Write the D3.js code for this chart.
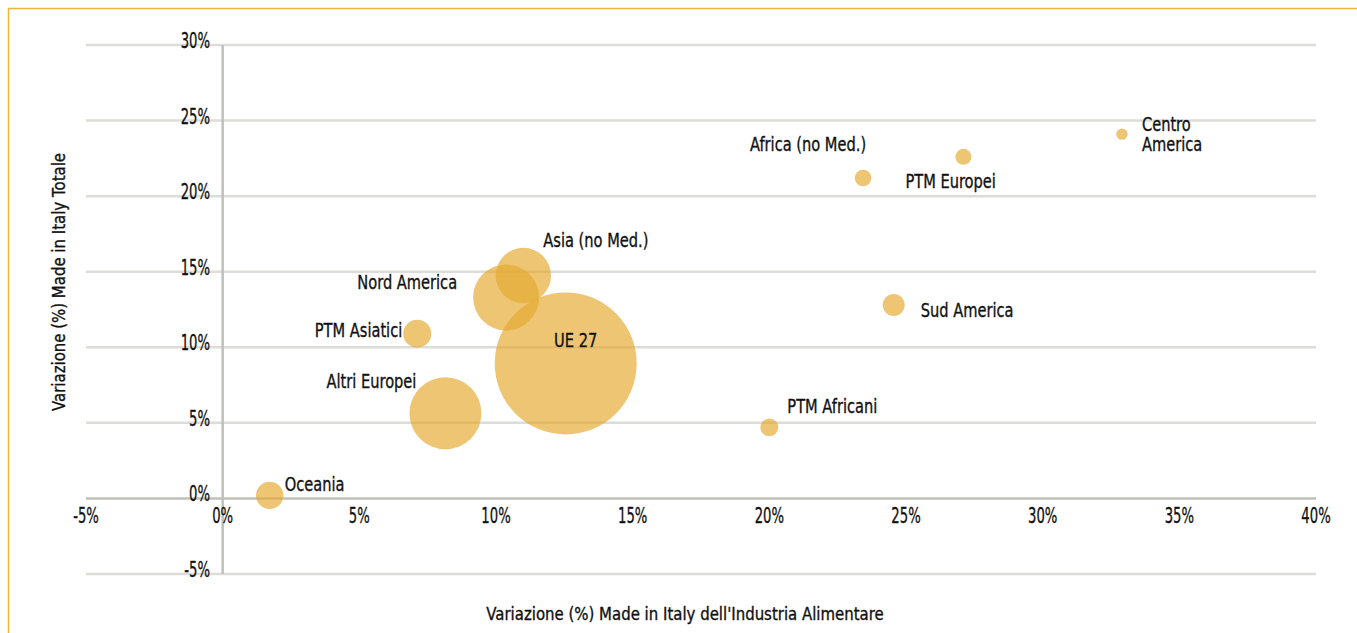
<!DOCTYPE html>
<html><head><meta charset="utf-8">
<script src="https://cdn.jsdelivr.net/npm/d3@7"></script>
<style>
html,body{margin:0;padding:0;background:#fff;}
svg text{font-family:"DejaVu Sans",sans-serif;fill:#111;stroke:#111;stroke-width:0.35px;}
</style></head>
<body>
<svg id="chart" width="1357" height="633"></svg>
<script>
// ---- data ----
const areas = ["UE 27","Asia (no Med.)","Nord America","PTM Asiatici","Altri Europei","Oceania","PTM Africani","Sud America","Africa (no Med.)","PTM Europei","Centro America"];
const foodGrowth = [12.55, 11.0, 10.37, 7.12, 8.15, 1.72, 20.0, 24.55, 23.43, 27.1, 32.9];   // x, %
const totalGrowth = [8.93, 14.75, 13.3, 10.9, 5.64, 0.2, 4.7, 12.8, 21.2, 22.6, 24.1];      // y, %
const exportWeight = [100, 15.2, 21.6, 3.9, 25.7, 3.7, 1.6, 2.4, 1.37, 1.27, 0.64];           // bubble size
const xTicks = [-5,0,5,10,15,20,25,30,35,40];
const yTicks = [-5,0,5,10,15,20,25,30];

// label layout (styling only)
const labelLayout = {
  "UE 27":{dx:10,dy:-23,anchor:"middle"},
  "Asia (no Med.)":{dx:20,dy:-35,anchor:"start"},
  "Nord America":{dx:-49,dy:-15,anchor:"end"},
  "PTM Asiatici":{dx:-15,dy:-4,anchor:"end"},
  "Altri Europei":{dx:-29,dy:-32,anchor:"end"},
  "Oceania":{dx:15,dy:-11,anchor:"start"},
  "PTM Africani":{dx:18,dy:-21,anchor:"start"},
  "Sud America":{dx:27,dy:5,anchor:"start"},
  "Africa (no Med.)":{dx:3,dy:-34,anchor:"end"},
  "PTM Europei":{dx:-58,dy:24,anchor:"start"},
  "Centro America":{dx:20,dy:-10,anchor:"start",lines:["Centro","America"]}
};

const svg = d3.select("#chart");
// condensed text helper (narrow typeface look)
function ctext(g, px, py, lines, size, sx, anchor, rot, lh){
  const t = g.append("text")
    .attr("transform", `translate(${px},${py})${rot?` rotate(${rot})`:""} scale(${sx},1)`)
    .attr("text-anchor", anchor).attr("font-size", size);
  if (Array.isArray(lines)) {
    lines.forEach((ln,i)=>t.append("tspan").attr("x",0).attr("y",i*(lh||20)).text(ln));
  } else t.text(lines);
  return t;
}

// frame
svg.append("rect").attr("x",8.5).attr("y",8.5).attr("width",1400).attr("height",700)
  .attr("fill","none").attr("stroke","#f0b43c").attr("stroke-width",1.5);

const x = d3.scaleLinear().domain([-5,40]).range([86,1316]);
const y = d3.scaleLinear().domain([-5,30]).range([574,45]);
const r = d3.scaleSqrt().domain([0,100]).range([0,71]);

// gridlines
svg.append("g").selectAll("line").data(yTicks.filter(d=>d!==0)).join("line")
  .attr("x1",x(-5)).attr("x2",x(40)).attr("y1",d=>y(d)).attr("y2",d=>y(d))
  .attr("stroke","#dcdcd8").attr("stroke-width",2.5);
// zero x axis line
svg.append("line").attr("x1",x(-5)).attr("x2",x(40)).attr("y1",y(0)).attr("y2",y(0))
  .attr("stroke","#c0c0ba").attr("stroke-width",2.5);
// y axis line
svg.append("line").attr("x1",x(0)).attr("x2",x(0)).attr("y1",y(30)).attr("y2",y(-5))
  .attr("stroke","#c0c0ba").attr("stroke-width",2.5);

// tick labels
const yt = svg.append("g");
yTicks.forEach(d=>ctext(yt, 210, y(d)+3, d+"%", 22, 0.6, "end"));
const xt = svg.append("g");
xTicks.forEach(d=>ctext(xt, x(d), y(0)+25, d+"%", 22, 0.6, "middle"));

// axis titles
ctext(svg, 685, 620, "Variazione (%) Made in Italy dell'Industria Alimentare", 17, 0.88, "middle");
ctext(svg, 65, 282, "Variazione (%) Made in Italy Totale", 17, 0.88, "middle", -90);

const data = areas.map((a,i)=>({name:a,x:foodGrowth[i],y:totalGrowth[i],s:exportWeight[i]}));

// bubbles
svg.append("g").selectAll("circle").data(data).join("circle")
  .attr("cx",d=>x(d.x)).attr("cy",d=>y(d.y)).attr("r",d=>r(d.s))
  .attr("fill","#e4a930").attr("fill-opacity",0.68);

// labels
const lg = svg.append("g");
data.forEach(d=>{
  const L = labelLayout[d.name];
  ctext(lg, x(d.x)+L.dx, y(d.y)+L.dy+7, L.lines || d.name, 19, 0.77, L.anchor, 0, 20);
});
</script>
</body></html>
